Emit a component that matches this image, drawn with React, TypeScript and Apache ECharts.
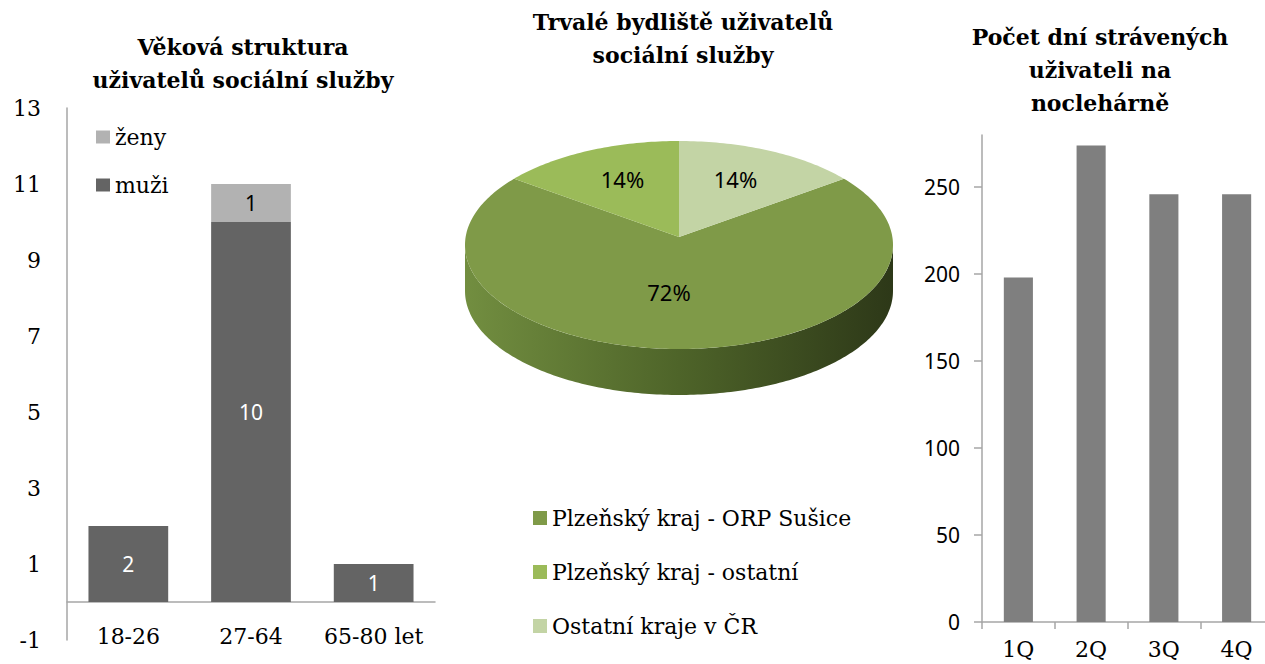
import React, { useEffect, useRef } from "react";
import * as echarts from "echarts";

// ---------- data ----------
const AGE_CATEGORIES = ["18-26", "27-64", "65-80 let"];
const MUZI = [2, 10, 1];
const ZENY = [0, 1, 0];
const LEFT_Y_TICKS = [-1, 1, 3, 5, 7, 9, 11, 13];

const PIE_NAMES = ["Plzeňský kraj - ORP Sušice", "Plzeňský kraj - ostatní", "Ostatní kraje v ČR"];
const PIE_VALUES = [72, 14, 14];

const QUARTERS = ["1Q", "2Q", "3Q", "4Q"];
const NIGHTS = [198, 274, 246, 246];
const RIGHT_Y_TICKS = [0, 50, 100, 150, 200, 250];

const TITLE_LEFT = "Věková struktura\nuživatelů sociální služby";
const TITLE_MID = "Trvalé bydliště uživatelů\nsociální služby";
const TITLE_RIGHT = "Počet dní strávených\nuživateli na\nnoclehárně";

// ---------- style / layout ----------
const SERIF = "DejaVu Serif";
const SANS = "Noto Sans";
const AXIS_GRAY = "#a6a6a6";
const PIE_COLORS = ["#7f9a48", "#9bbb59", "#c3d4a5"];
const PIE = { cx: 679, cy: 245, rx: 214, ry: 104, apexY: 237, depth: 46, firstAngle: 39.6 };

function pt(tDeg: number, dy = 0) {
  const t = (tDeg * Math.PI) / 180;
  return [PIE.cx + PIE.rx * Math.cos(t), PIE.cy - PIE.ry * Math.sin(t) + dy];
}

function makeSliceRenderer(i: number) {
  return (params: any, api: any) => {
    const total = PIE_VALUES.reduce((a, b) => a + b, 0);
    let start = PIE.firstAngle;
    for (let j = 0; j < i; j++) start -= (PIE_VALUES[j] / total) * 360;
    const v = api.value(0);
    const sweep = (v / total) * 360;
    const end = start - sweep;
    const color = api.visual("color");
    const children: any[] = [];

    // front side
    for (let k = -2; k <= 1; k++) {
      const lo = -180 + 360 * k;
      const hi = 360 * k;
      const a = Math.max(end, lo);
      const b = Math.min(start, hi);
      if (a < b) {
        const pts: number[][] = [];
        for (let t = b; t > a; t -= 1) pts.push(pt(t));
        pts.push(pt(a));
        for (let t = a; t < b; t += 1) pts.push(pt(t, PIE.depth));
        pts.push(pt(b, PIE.depth));
        children.push({
          type: "polygon",
          shape: { points: pts },
          style: {
            fill: new echarts.graphic.LinearGradient(
              PIE.cx - PIE.rx, 0, PIE.cx + PIE.rx, 0,
              [
                { offset: 0, color: "#728e40" },
                { offset: 0.5, color: "#4e6429" },
                { offset: 1, color: "#2d3818" },
              ],
              true
            ),
          },
        });
      }
    }

    // top face
    const top: number[][] = [[PIE.cx, PIE.apexY]];
    for (let t = start; t > end; t -= 1) top.push(pt(t));
    top.push(pt(end));
    children.push({ type: "polygon", shape: { points: top }, style: { fill: color } });

    // label
    const mid = ((start + end) / 2) * (Math.PI / 180);
    const f = v / total > 0.5 ? 0.53 : 0.62;
    children.push({
      type: "text",
      x: PIE.cx + f * PIE.rx * Math.cos(mid) - (v / total > 0.5 ? 10 : 0),
      y: PIE.apexY - f * PIE.ry * Math.sin(mid),
      style: {
        text: Math.round((v / total) * 100) + "%",
        fill: "#000",
        font: `22px "${SANS}"`,
        align: "center",
        verticalAlign: "middle",
      },
    });
    return { type: "group", children };
  };
}

export default function App() {
  const ref = useRef<HTMLDivElement>(null);
  useEffect(() => {
    if (!ref.current) return;
    const chart = echarts.init(ref.current, undefined, { renderer: "svg" });
    const titleStyle = (text: string, x: number, y: number) => ({
      type: "text",
      x,
      y,
      style: {
        text,
        fill: "#000",
        font: `bold 22px "${SERIF}"`,
        align: "center",
        verticalAlign: "top",
        lineHeight: 33,
      },
    });
    chart.setOption({
      animation: false,
      backgroundColor: "#fff",
      graphic: [
        titleStyle(TITLE_LEFT, 243, 30),
        titleStyle(TITLE_MID, 683, 5),
        titleStyle(TITLE_RIGHT, 1100, 20),
      ],
      legend: [
        {
          data: ["ženy", "muži"],
          orient: "vertical",
          left: 91,
          top: 121,
          itemWidth: 14,
          itemHeight: 13,
          itemGap: 26,
          icon: "rect",
          textStyle: { fontFamily: SERIF, fontSize: 22, lineHeight: 22, color: "#000" },
        },
        {
          data: PIE_NAMES,
          orient: "vertical",
          left: 528,
          top: 502,
          itemWidth: 14,
          itemHeight: 14,
          itemGap: 32,
          icon: "rect",
          textStyle: { fontFamily: SERIF, fontSize: 22, lineHeight: 22, color: "#000" },
        },
      ],
      grid: [
        { left: 67, top: 108, width: 368, height: 532, outerBoundsMode: "none" },
        { left: 982, top: 135, width: 291, height: 487, outerBoundsMode: "none" },
      ],
      xAxis: [
        {
          type: "category",
          gridIndex: 0,
          data: AGE_CATEGORIES,
          axisLine: { onZero: true, lineStyle: { color: AXIS_GRAY, width: 1.5 } },
          axisTick: { show: false },
          axisLabel: { interval: 0, fontFamily: SERIF, fontSize: 22, color: "#000", margin: -15 },
        },
        {
          type: "category",
          gridIndex: 1,
          data: QUARTERS,
          axisLine: { lineStyle: { color: AXIS_GRAY, width: 1.5 } },
          axisTick: { show: true, length: 7, lineStyle: { color: AXIS_GRAY, width: 1.5 } },
          axisLabel: { interval: 0, fontFamily: SERIF, fontSize: 22, color: "#000", margin: 16 },
        },
      ],
      yAxis: [
        {
          type: "value",
          gridIndex: 0,
          min: -1,
          max: 13,
          axisLine: { show: true, lineStyle: { color: AXIS_GRAY, width: 1.5 } },
          axisTick: { show: false },
          splitLine: { show: false },
          axisLabel: {
            customValues: LEFT_Y_TICKS,
            fontFamily: SERIF,
            fontSize: 22,
            color: "#000",
            margin: 26,
          },
        },
        {
          type: "value",
          gridIndex: 1,
          min: 0,
          max: 280,
          interval: 50,
          axisLine: { show: true, lineStyle: { color: AXIS_GRAY, width: 1.5 } },
          axisTick: {
            show: true,
            length: 8,
            customValues: RIGHT_Y_TICKS,
            lineStyle: { color: AXIS_GRAY, width: 1.5 },
          },
          splitLine: { show: false },
          axisLabel: {
            customValues: RIGHT_Y_TICKS,
            fontFamily: SANS,
            fontSize: 21,
            color: "#000",
            margin: 22,
          },
        },
      ],
      series: [
        {
          name: "muži",
          type: "bar",
          stack: "age",
          xAxisIndex: 0,
          yAxisIndex: 0,
          data: MUZI,
          barWidth: "65%",
          itemStyle: { color: "#646464" },
          label: {
            show: true,
            position: "inside",
            color: "#fff",
            fontFamily: SANS,
            fontSize: 21,
            formatter: (p: any) => (p.value ? String(p.value) : ""),
          },
        },
        {
          name: "ženy",
          type: "bar",
          stack: "age",
          xAxisIndex: 0,
          yAxisIndex: 0,
          data: ZENY,
          barWidth: "65%",
          itemStyle: { color: "#b2b2b2" },
          label: {
            show: true,
            position: "inside",
            color: "#000",
            fontFamily: SANS,
            fontSize: 21,
            formatter: (p: any) => (p.value ? String(p.value) : ""),
          },
        },
        ...PIE_NAMES.map((name, i) => ({
          name,
          type: "custom",
          coordinateSystem: "none",
          data: [PIE_VALUES[i]],
          itemStyle: { color: PIE_COLORS[i] },
          renderItem: makeSliceRenderer(i),
          silent: true,
        })),
        {
          name: "noclehárna",
          type: "bar",
          xAxisIndex: 1,
          yAxisIndex: 1,
          data: NIGHTS,
          barWidth: "40%",
          itemStyle: { color: "#7f7f7f" },
        },
      ],
    });
    return () => chart.dispose();
  }, []);
  return (
    <div
      ref={ref}
      style={{ position: "fixed", left: 0, top: 0, width: 1265, height: 664, background: "#fff" }}
    />
  );
}
